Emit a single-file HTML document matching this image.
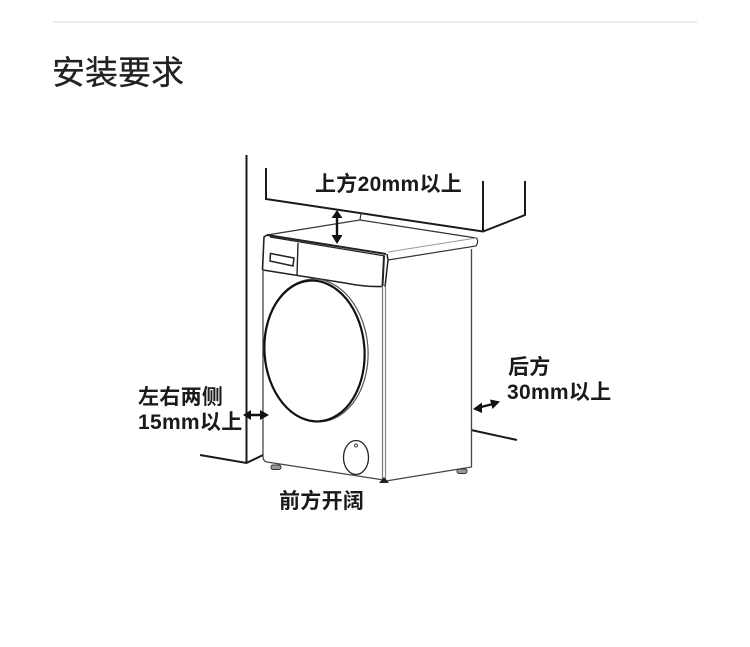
<!DOCTYPE html>
<html><head><meta charset="utf-8"><style>
html,body{margin:0;padding:0;background:#fff}
svg{display:block;filter:blur(.3px)}
text{font-family:"Liberation Sans","Noto Sans CJK SC",sans-serif}
.b{font-weight:700;font-size:21px;letter-spacing:.3px;fill:#1a1a1a}
</style></head><body>
<svg width="750" height="647" viewBox="0 0 750 647" xmlns="http://www.w3.org/2000/svg">
<rect x="53" y="21.5" width="644" height="1.5" fill="#e6e6e6"/>
<text x="52" y="84" font-size="33" fill="#222" stroke="#222" stroke-width=".3">安装要求</text>

<g fill="none" stroke="#1a1a1a" stroke-width="2" stroke-linejoin="miter">
<path d="M246.500 155V463"/>
<path d="M200 455L246.500 463L263 455"/>
<path d="M266 168V199L483 231.500L525 215V181"/>
<path d="M483 181V231"/>
<path d="M471 430L517 440"/>
</g>

<g fill="none" stroke="#333" stroke-width="1.200">
<path d="M267 235L360 220L361 213"/>
<path d="M360 220L476 238Q478 239 477.500 243L476 246L388 260"/>
<path d="M388 252L476 238" stroke="#999" stroke-width="1"/>
</g>
<g fill="none" stroke="#222" stroke-width="1.600">
<path d="M267 235L386 254" stroke-width="2"/>
<path d="M270 237L385 256" stroke-width="1.200"/>
<path d="M267 235L264 237L262.500 270"/>
<path d="M263 270Q320 279 345 283Q365 287 382 286.500"/>
<path d="M298 243L297 275" stroke-width="1.400"/>
<path d="M270.500 253.500L294 258L293 266L270 261Z" stroke-width="1.500"/>
<path d="M387 254L388 260L385 287" stroke-width="1.500"/>
<path d="M384 256L382.500 286" stroke-width="2"/>
</g>

<g fill="none">
<path d="M263 270V457Q263 461 267 462L384 480" stroke="#444" stroke-width="1.300"/>
<path d="M382.500 286V480" stroke="#777" stroke-width="1.200"/>
<path d="M385.500 286V480" stroke="#888" stroke-width="1.200"/>
<path d="M471.500 249V467L386 481" stroke="#444" stroke-width="1.300"/>
</g>

<ellipse cx="316" cy="350.500" rx="52" ry="71.500" transform="rotate(-4 316 350.500)" fill="none" stroke="#555" stroke-width="1.200"/>
<ellipse cx="314.500" cy="351" rx="50" ry="70.500" transform="rotate(-4 314.500 351)" fill="none" stroke="#111" stroke-width="2.200"/>

<ellipse cx="356" cy="457.500" rx="12.500" ry="17" fill="#fff" stroke="#222" stroke-width="1.300"/>
<circle cx="356" cy="445.500" r="1.500" fill="none" stroke="#444" stroke-width="1"/>

<rect x="271" y="465" width="10" height="4.500" rx="2" fill="#999" stroke="#333" stroke-width="1"/>
<rect x="457" y="469" width="10" height="4.500" rx="2" fill="#999" stroke="#333" stroke-width="1"/>
<path d="M379 483L384 477L389 483Z" fill="#222"/>

<g stroke="#111" fill="#111">
<path d="M337 214V240" stroke-width="2.400" fill="none"/>
<path d="M337 210L331.500 218H342.500Z" stroke="none"/>
<path d="M337 244L331.500 235H342.500Z" stroke="none"/>
<path d="M246 415H266" stroke-width="2.400" fill="none"/>
<path d="M243 415L251 410V420Z" stroke="none"/>
<path d="M269 415L260 410V420Z" stroke="none"/>
<path d="M477 408L497 403" stroke-width="2.400" fill="none"/>
<path d="M473 409L482 402.500V413Z" stroke="none"/>
<path d="M500 401.500L490 399.500L492.500 409Z" stroke="none"/>
</g>

<text class="b" x="315" y="191">上方20mm以上</text>
<text class="b" x="138" y="404">左右两侧</text>
<text class="b" x="138" y="429">15mm以上</text>
<text class="b" x="508" y="374">后方</text>
<text class="b" x="507" y="399">30mm以上</text>
<text class="b" x="279" y="508">前方开阔</text>
</svg>
</body></html>
